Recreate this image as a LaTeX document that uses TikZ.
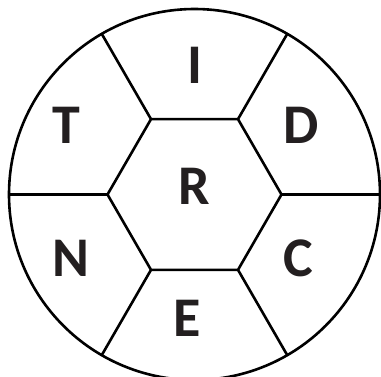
\documentclass[tikz,border=0pt]{standalone}
\usepackage{fontspec}
\setmainfont{Carlito}
\usepackage{xcolor}
\usepackage{tikz}
\usetikzlibrary{calc}
\definecolor{inkblack}{HTML}{231F20}

\begin{document}
\begin{tikzpicture}[x=1pt, y=-1pt,
  line width=2.6pt, line join=round,
  letter/.style={inner sep=0pt, text=inkblack, font=\fontsize{56}{56}\selectfont\bfseries}]

\useasboundingbox (0,0) rectangle (381,376);

% Outer circle and inner hexagon
\coordinate (O) at (194.5,194.5);
\foreach \a in {0,60,...,300} {
  \coordinate (h\a) at ($(O)+(\a:87)$);
  \coordinate (c\a) at ($(O)+(\a:185.5)$);
}
\draw (O) circle[radius=185.5pt];
\draw (h0) -- (h60) -- (h120) -- (h180) -- (h240) -- (h300) -- cycle;

% Spokes
\foreach \a in {0,60,...,300}
  \draw (h\a) -- (c\a);

% Letters
\node[letter] (r) at (194,186) {R};
\node[letter] (i) at (195,65) {I};
\node[letter] (d) at (301,125) {D};
\node[letter] (c) at (298,258) {C};
\node[letter] (e) at (187,318) {E};
\node[letter] (n) at (71,258) {N};
\node[letter] (t) at (66,125) {T};

\end{tikzpicture}
\end{document}
